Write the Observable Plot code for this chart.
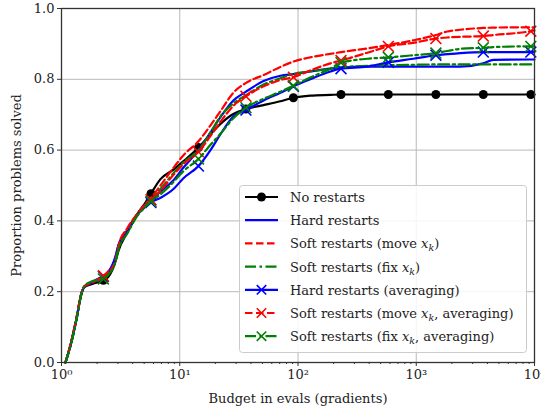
<!DOCTYPE html>
<html><head><meta charset="utf-8">
<script src="https://cdn.jsdelivr.net/npm/d3@7"></script>
<script src="https://cdn.jsdelivr.net/npm/@observablehq/plot@0.6"></script>
<style>body{margin:0;background:#fff}</style>
</head><body><div id="chart"></div>
<script>
const budget = [1.08, 1.19, 1.36, 1.45, 1.56, 1.83, 2.26, 2.49, 2.86, 3.03, 3.61, 4.39, 5.13, 5.71, 6.87, 8.85, 10.7, 14.4, 18.2, 22.1, 28.4, 36.3, 51.1, 71.0, 91.4, 127, 188, 231, 386, 581, 944, 1466, 1832, 2360, 3690, 4487, 9311, 10000];
const noRestarts = [0, 0.048, 0.135, 0.185, 0.213, 0.222, 0.232, 0.242, 0.285, 0.315, 0.368, 0.42, 0.452, 0.477, 0.518, 0.545, 0.568, 0.607, 0.645, 0.674, 0.702, 0.716, 0.727, 0.738, 0.748, 0.754, 0.756, 0.757, 0.757, 0.757, 0.757, 0.757, 0.757, 0.757, 0.757, 0.757, 0.757, 0.757];
const hardRestarts = [0, 0.048, 0.135, 0.185, 0.214, 0.228, 0.245, 0.256, 0.30, 0.332, 0.375, 0.42, 0.447, 0.457, 0.483, 0.515, 0.55, 0.60, 0.65, 0.693, 0.74, 0.765, 0.795, 0.81, 0.815, 0.822, 0.83, 0.833, 0.836, 0.836, 0.836, 0.836, 0.836, 0.836, 0.845, 0.855, 0.856, 0.856];
const softMove = [0, 0.05, 0.138, 0.187, 0.215, 0.226, 0.243, 0.254, 0.292, 0.325, 0.375, 0.42, 0.448, 0.465, 0.50, 0.55, 0.585, 0.625, 0.67, 0.71, 0.762, 0.79, 0.812, 0.835, 0.85, 0.862, 0.872, 0.877, 0.887, 0.897, 0.91, 0.925, 0.935, 0.94, 0.945, 0.946, 0.947, 0.947];
const softFix = [0, 0.046, 0.133, 0.184, 0.214, 0.228, 0.238, 0.25, 0.288, 0.32, 0.37, 0.42, 0.445, 0.46, 0.49, 0.535, 0.565, 0.60, 0.65, 0.695, 0.732, 0.755, 0.785, 0.803, 0.815, 0.822, 0.83, 0.834, 0.838, 0.84, 0.841, 0.842, 0.842, 0.842, 0.842, 0.842, 0.842, 0.842];
const hardAvg = [0, 0.048, 0.135, 0.185, 0.214, 0.226, 0.243, 0.254, 0.295, 0.33, 0.37, 0.418, 0.44, 0.452, 0.465, 0.49, 0.52, 0.555, 0.60, 0.645, 0.695, 0.713, 0.74, 0.762, 0.78, 0.80, 0.822, 0.83, 0.836, 0.848, 0.858, 0.868, 0.871, 0.874, 0.877, 0.877, 0.877, 0.877];
const softMoveAvg = [0, 0.05, 0.138, 0.187, 0.215, 0.226, 0.245, 0.254, 0.29, 0.33, 0.38, 0.42, 0.445, 0.46, 0.485, 0.53, 0.56, 0.595, 0.64, 0.68, 0.725, 0.752, 0.78, 0.798, 0.806, 0.825, 0.845, 0.853, 0.875, 0.893, 0.903, 0.915, 0.918, 0.92, 0.922, 0.925, 0.936, 0.938];
const softFixAvg = [0, 0.046, 0.133, 0.184, 0.215, 0.23, 0.236, 0.248, 0.285, 0.32, 0.365, 0.415, 0.44, 0.455, 0.475, 0.51, 0.54, 0.575, 0.615, 0.646, 0.69, 0.72, 0.745, 0.765, 0.782, 0.805, 0.83, 0.847, 0.858, 0.862, 0.868, 0.874, 0.88, 0.886, 0.889, 0.891, 0.893, 0.893];
const markerBudgets = [2.26, 5.71, 14.4, 36.3, 91.4, 231, 581, 1466, 3690, 9311];
const xTicks = [1, 10, 100, 1000, 10000];
const xTickLabels = ["10⁰", "10¹", "10²", "10³", "10⁴"];
const yTicks = [0, 0.2, 0.4, 0.6, 0.8, 1.0];

const series = [
  {key: "no", values: noRestarts, color: "#000000", dash: null, marker: "dot"},
  {key: "hard", values: hardRestarts, color: "#0000ff", dash: null, marker: null},
  {key: "softMove", values: softMove, color: "#ff0000", dash: "7.5,3.5", marker: null},
  {key: "softFix", values: softFix, color: "#008000", dash: "11,3.5,2.5,3.5", marker: null},
  {key: "hardAvg", values: hardAvg, color: "#0000ff", dash: null, marker: "times"},
  {key: "softMoveAvg", values: softMoveAvg, color: "#ff0000", dash: "7.5,3.5", marker: "times"},
  {key: "softFixAvg", values: softFixAvg, color: "#008000", dash: "11,3.5,2.5,3.5", marker: "times"}
];
const rows = series.flatMap(s => budget.map((b, i) => ({budget: b, value: s.values[i], key: s.key})));

const minorTicks = [];
for (const e of [1, 10, 100, 1000]) for (let m = 2; m <= 9; m++) minorTicks.push(m * e);

const FONT = "'DejaVu Serif', serif";
const marks = [
  Plot.gridX([10, 100, 1000], {stroke: "#b0b0b0", strokeOpacity: 1, strokeWidth: 0.9}),
  Plot.gridY([0.2, 0.4, 0.6, 0.8], {stroke: "#b0b0b0", strokeOpacity: 1, strokeWidth: 0.9}),
];
for (const s of series) {
  const d = rows.filter(r => r.key === s.key);
  marks.push(Plot.line(d, {x: "budget", y: "value", stroke: s.color, strokeWidth: 2.2, strokeDasharray: s.dash, curve: "monotone-x"}));
  if (s.marker === "dot") {
    marks.push(Plot.dot(d.filter(r => markerBudgets.includes(r.budget)), {x: "budget", y: "value", r: 4.5, fill: s.color, stroke: "none"}));
  } else if (s.marker === "times") {
    marks.push(Plot.dot(d.filter(r => markerBudgets.includes(r.budget)), {x: "budget", y: "value", r: 5, symbol: "times", stroke: s.color, strokeWidth: 1.6, fill: "none"}));
  }
}
marks.push(
  Plot.axisX(minorTicks, {tickSize: 2, tickFormat: () => "", label: null, stroke: "#333"}),
  Plot.axisX({ticks: xTicks, tickFormat: (d) => xTickLabels[xTicks.indexOf(d)], tickSize: 4, tickPadding: 3, stroke: "#333", fill: "#222",
    label: "Budget in evals (gradients)", labelAnchor: "center", labelArrow: "none", labelOffset: 40}),
  Plot.axisY({ticks: yTicks, tickFormat: d => d.toFixed(1), tickSize: 4, tickPadding: 3, stroke: "#333", fill: "#222",
    label: "Proportion problems solved", labelAnchor: "center", labelArrow: "none", labelOffset: 50}),
  Plot.frame({stroke: "#333", strokeWidth: 1.3})
);

const chart = Plot.plot({
  width: 541, height: 412,
  marginLeft: 61, marginRight: 7, marginTop: 8, marginBottom: 50,
  x: {type: "log", domain: [1, 10000]},
  y: {domain: [0, 1]},
  style: {fontFamily: FONT, fontSize: "13px", color: "#222", background: "#fff"},
  marks
});
document.getElementById("chart").appendChild(chart);

// legend
const svg = d3.select(chart);
const legendItems = [
  {label: ["No restarts"], s: series[0]},
  {label: ["Hard restarts"], s: series[1]},
  {label: ["Soft restarts (move ", "x", "k", ")"], s: series[2]},
  {label: ["Soft restarts (fix ", "x", "k", ")"], s: series[3]},
  {label: ["Hard restarts (averaging)"], s: series[4]},
  {label: ["Soft restarts (move ", "x", "k", ", averaging)"], s: series[5]},
  {label: ["Soft restarts (fix ", "x", "k", ", averaging)"], s: series[6]}
];
const lg = svg.append("g").attr("font-family", FONT).attr("font-size", 13).attr("text-anchor", "start");
lg.append("rect").attr("x", 239.5).attr("y", 185.5).attr("width", 287).attr("height", 167).attr("rx", 3)
  .attr("fill", "#fff").attr("fill-opacity", 0.85).attr("stroke", "#cccccc").attr("stroke-width", 1);
legendItems.forEach((it, i) => {
  const cy = 197 + i * 23.2;
  const s = it.s;
  lg.append("line").attr("x1", 245).attr("x2", 278).attr("y1", cy).attr("y2", cy)
    .attr("stroke", s.color).attr("stroke-width", 2.2).attr("stroke-dasharray", s.dash);
  if (s.marker === "dot") lg.append("circle").attr("cx", 261.5).attr("cy", cy).attr("r", 4.5).attr("fill", s.color);
  if (s.marker === "times") lg.append("path").attr("d", d3.symbol(d3.symbolTimes, 60)()).attr("transform", `translate(261.5,${cy})`)
    .attr("stroke", s.color).attr("stroke-width", 1.6).attr("fill", "none");
  const t = lg.append("text").attr("x", 290).attr("y", cy + 5).attr("fill", "#222").attr("text-anchor", "start");
  if (it.label.length === 1) t.text(it.label[0]);
  else {
    t.append("tspan").text(it.label[0]);
    t.append("tspan").attr("font-style", "italic").text(it.label[1]);
    t.append("tspan").attr("font-style", "italic").attr("font-size", 9.5).attr("dy", 3).text(it.label[2]);
    t.append("tspan").attr("dy", -3).text(it.label[3]);
  }
});
</script>
</body></html>
